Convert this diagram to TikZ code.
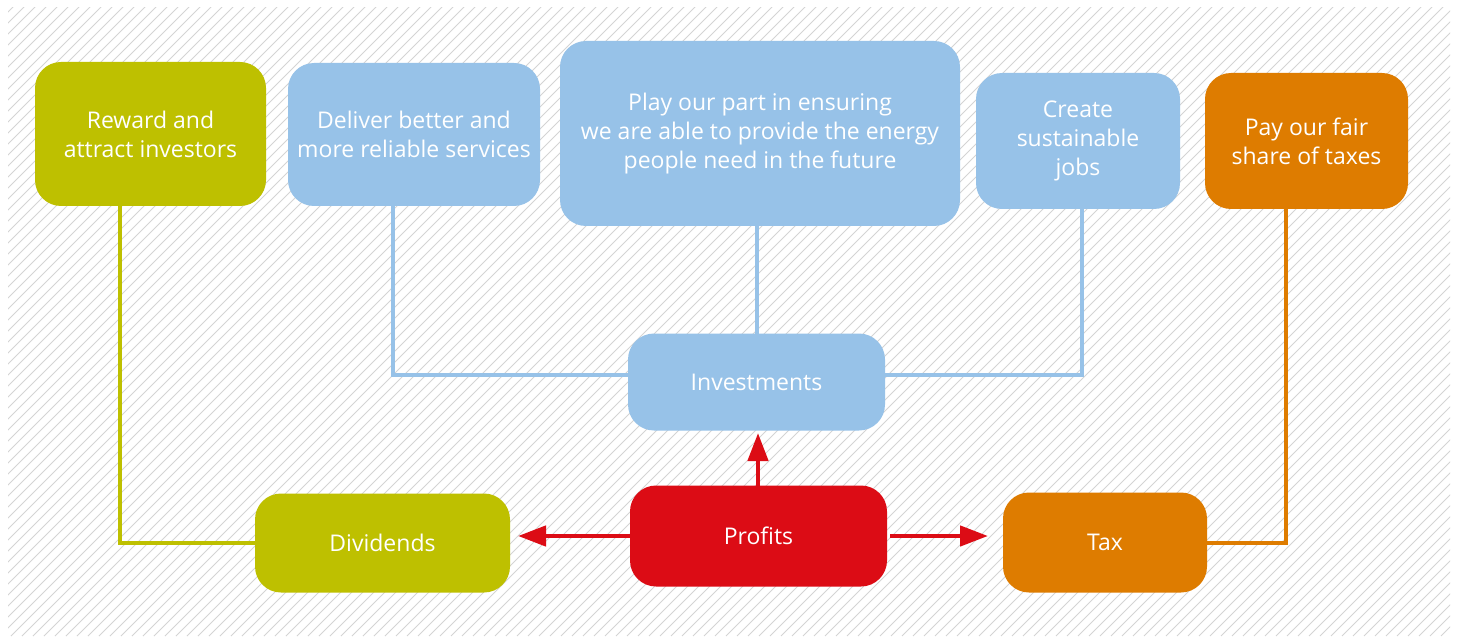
\documentclass[tikz,border=0pt]{standalone}
\usepackage{fontspec}
\setmainfont{Open Sans}
\usetikzlibrary{arrows.meta}
\definecolor{olive}{RGB}{190,192,0}
\definecolor{sky}{RGB}{151,194,232}
\definecolor{amber}{RGB}{222,124,0}
\definecolor{crimson}{RGB}{220,12,21}
\definecolor{hatch}{RGB}{212,212,212}
\tikzset{
  box/.style={rounded corners=26pt, inner sep=0pt, outer sep=0pt, text=white, align=center,
    font=\fontsize{23}{29}\selectfont},
  oliveline/.style={draw=olive, line width=4pt},
  skyline/.style={draw=sky, line width=4pt},
  amberline/.style={draw=amber, line width=4pt},
  redarrow/.style={draw=crimson, line width=4.5pt, -{Triangle[length=28pt,width=20pt]}},
}
\begin{document}
\begin{tikzpicture}[x=1pt,y=-1pt]
\useasboundingbox (0,0) rectangle (1459,639);
\fill[white] (0,0) rectangle (1459,639);
\begin{scope}
  \clip (8,8) rectangle (1450,636);
  \foreach \i in {-60,...,135} {
    \draw[hatch, line width=0.9pt] ({\i*11},636) -- ({\i*11+640},-4);
  }
\end{scope}
% nodes
\node[box, fill=olive, minimum width=231pt, minimum height=144pt] (reward) at (150.5,134) {Reward and\\attract investors};
\node[box, fill=sky, minimum width=252pt, minimum height=143pt] (deliver) at (414,134.5) {Deliver better and\\more reliable services};
\node[box, fill=sky, minimum width=400pt, minimum height=185pt] (play) at (760,133.5) {Play our part in ensuring\\we are able to provide the energy\\people need in the future};
\node[box, fill=sky, minimum width=204pt, minimum height=136pt] (create) at (1078,141) {Create\\sustainable\\jobs};
\node[box, fill=amber, minimum width=203pt, minimum height=136pt] (pay) at (1306.5,141) {Pay our fair\\share of taxes};
\node[box, fill=sky, minimum width=257pt, minimum height=97pt] (invest) at (756.5,382) {Investments};
\node[box, fill=crimson, minimum width=257pt, minimum height=101pt] (profits) at (758.5,536) {Profits};
\node[box, fill=olive, minimum width=255pt, minimum height=99pt] (divid) at (382.5,543) {Dividends};
\node[box, fill=amber, minimum width=204pt, minimum height=100pt] (tax) at (1105,542.5) {Tax};
% connectors
\draw[oliveline] (reward.south -| 120,0) |- (divid.west |- 0,543);
\draw[skyline] (deliver.south -| 393,0) |- (invest.west |- 0,375);
\draw[skyline] (play.south -| 757,0) -- (invest.north -| 757,0);
\draw[skyline] (create.south -| 1082,0) |- (invest.east |- 0,375);
\draw[amberline] (pay.south -| 1286,0) |- (tax.east |- 0,543);
\coordinate (upTip) at (758,433);
\coordinate (leftTip) at (518,536);
\coordinate (rightTip) at (988,536);
\draw[redarrow] (profits.north -| 758,0) -- (upTip);
\draw[redarrow] (profits.west |- 0,536) -- (leftTip);
\draw[redarrow] ([xshift=3pt]profits.east |- 0,536) -- (rightTip);
\end{tikzpicture}
\end{document}
